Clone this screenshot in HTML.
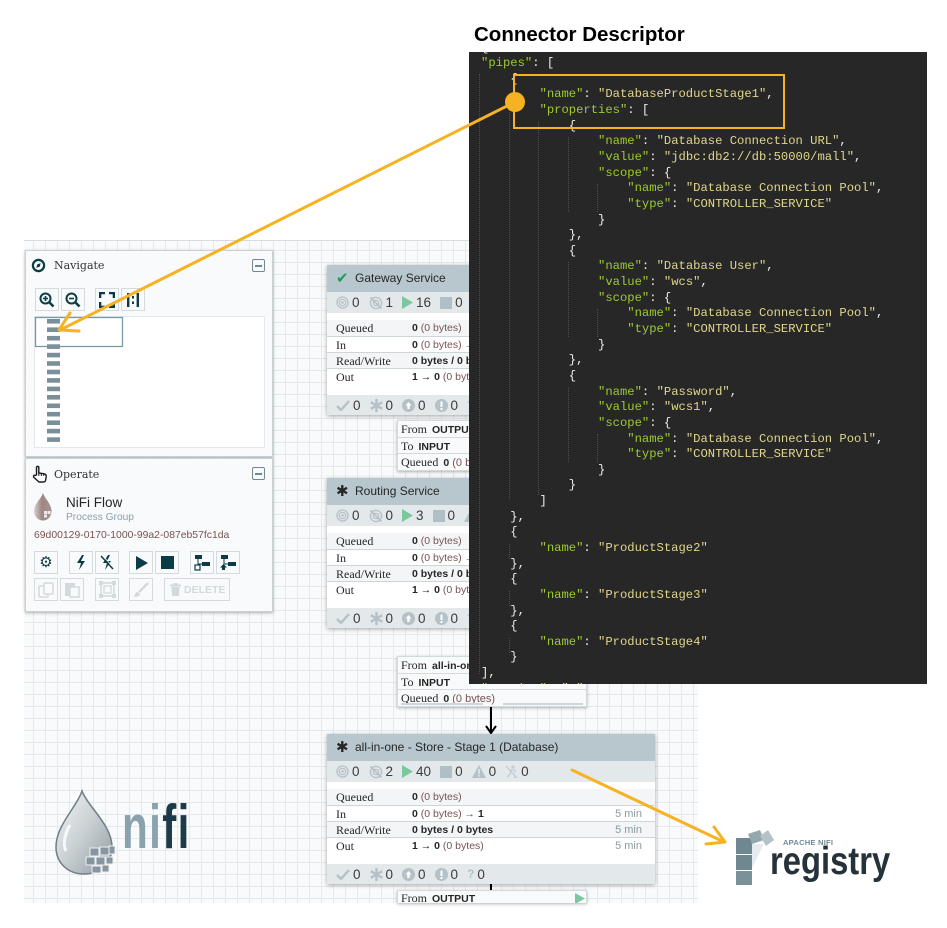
<!DOCTYPE html>
<html><head><meta charset="utf-8">
<style>
*{margin:0;padding:0;box-sizing:border-box}
body{width:947px;height:928px;position:relative;overflow:hidden;background:#fff;font-family:"Liberation Sans",sans-serif;color:#262626}
.a{position:absolute}
#canvas{left:24px;top:240px;width:674px;height:663px;background-color:#f9fafb;background-image:linear-gradient(#e4e9ec 1px,transparent 1px),linear-gradient(90deg,#e4e9ec 1px,transparent 1px);background-size:12px 12px;background-position:9px 9px;border-top:1px solid #d5dde0;z-index:0}
.panel{position:absolute;background:#f9fafb;border:1px solid #c9d2d6;box-shadow:0 1px 3px rgba(0,0,0,.3);z-index:2}
.slab{font-family:"DejaVu Serif","Liberation Serif",serif}
.ser{font-family:"Liberation Serif",serif}
.btn{position:absolute;width:24px;height:23px;border:1px solid #d4dbdf;background:#f9fafb;display:flex;align-items:center;justify-content:center;z-index:3}
.mn{position:absolute;width:13px;height:13px;border:1px solid #6f8a96;border-radius:2px;z-index:3}
.mn:after{content:"";position:absolute;left:2px;right:2px;top:5px;height:1.5px;background:#6f8a96}
.proc{position:absolute;width:328px;height:150px;background:#fff;box-shadow:0 1px 4px rgba(0,0,0,.35);z-index:2;overflow:hidden}
.ph{position:absolute;left:0;top:0;width:100%;height:27px;background:#b8c6cd;line-height:27px;padding-left:9px;font-size:12px;white-space:nowrap}
.ph .hi{display:inline-block;width:16px;font-size:15px;margin-right:3px;vertical-align:top}
.ps,.pf{position:absolute;left:0;width:100%;background:#e3e8eb;display:flex;align-items:center;padding-left:9px;white-space:nowrap}
.ps{top:27px;height:21px}
.pf{top:130px;height:20px}
.ps span.n,.pf span.n{font-size:13.5px;color:#3d3a3a;margin-left:3px;margin-right:9px}
.ps svg,.pf svg{flex:none}
.r{position:absolute;left:0;width:100%;height:16px;line-height:16px;font-size:10.5px;white-space:nowrap}
.r .l{position:absolute;left:9px;font-family:"Liberation Serif",serif;font-size:12px;color:#262626}
.r .v{position:absolute;left:85px;color:#775351}
.r .v b{color:#262626}
.r .t{position:absolute;right:13px;color:#8a9ba3;font-size:11px}
.g{background:#f3f5f6}
.sep{border-top:1px solid #cdd5d9}
.conn{position:absolute;width:190px;background:#f9fafb;box-shadow:0 1px 3px rgba(0,0,0,.3);border:1px solid #d3dadd;z-index:2;overflow:hidden}
.cr{height:16.5px;line-height:16.5px;padding-left:3px;font-size:11px;white-space:nowrap;border-bottom:1px solid #d3dadd;color:#262626}
.cr .sl{font-family:"Liberation Serif",serif;font-size:12px;margin-right:5px}
.cr b{font-size:10.5px}
#code{left:469px;top:52px;width:458px;height:632px;background:#272727;overflow:hidden;z-index:5}
#code pre{position:absolute;left:12px;top:-11.5px;font-family:"Liberation Mono",monospace;font-size:12.2px;line-height:15.64px;color:#eeeeee}
.k{color:#9dcb2e}.s{color:#e0d68a}
.gd{position:absolute;border-left:1px dotted #4e4e4e;width:0}
</style></head><body>

<div class="a" style="left:474px;top:23px;font-size:20.5px;font-weight:bold;color:#000;white-space:nowrap">Connector Descriptor</div>

<div id="canvas" class="a"></div>

<!-- Navigate panel -->
<div class="panel" style="left:25px;top:250px;width:248px;height:207px"></div>
<svg class="a" style="left:31px;top:258px;z-index:3" width="15" height="15"><circle cx="7.5" cy="7.5" r="5.6" fill="none" stroke="#0b3c45" stroke-width="2.2"/><path d="M5.3 9.7 L6.3 6.3 L9.7 5.3 L8.7 8.7 Z" fill="#0b3c45"/></svg>
<div class="a slab" style="left:54px;top:258px;font-size:11px;line-height:15px;z-index:3;color:#333">Navigate</div>
<div class="mn" style="left:252px;top:259px"></div>
<div class="btn" style="left:35px;top:288px"><svg width="16" height="16"><circle cx="6.5" cy="6.5" r="5" fill="none" stroke="#0b3c45" stroke-width="2"/><line x1="10" y1="10" x2="14.5" y2="14.5" stroke="#0b3c45" stroke-width="2.6"/><path d="M4 6.5H9M6.5 4V9" stroke="#0b3c45" stroke-width="1.6"/></svg></div>
<div class="btn" style="left:61px;top:288px"><svg width="16" height="16"><circle cx="6.5" cy="6.5" r="5" fill="none" stroke="#0b3c45" stroke-width="2"/><line x1="10" y1="10" x2="14.5" y2="14.5" stroke="#0b3c45" stroke-width="2.6"/><path d="M4 6.5H9" stroke="#0b3c45" stroke-width="1.6"/></svg></div>
<div class="btn" style="left:95px;top:288px"><svg width="16" height="16"><path d="M1 6V1H6M10 1H15V6M15 10V15H10M6 15H1V10" fill="none" stroke="#0b3c45" stroke-width="2.6"/></svg></div>
<div class="btn" style="left:121px;top:288px"><svg width="16" height="16"><rect x="2" y="1" width="2.4" height="14" fill="#0b3c45"/><rect x="11.6" y="1" width="2.4" height="14" fill="#0b3c45"/><rect x="7" y="4" width="2" height="2.5" fill="#0b3c45"/><rect x="7" y="9.5" width="2" height="2.5" fill="#0b3c45"/></svg></div>
<div class="a" style="left:34px;top:316px;width:231px;height:132px;background:#fff;border:1px solid #e3e8eb;z-index:3"></div>
<svg class="a" style="left:34px;top:316px;z-index:3" width="231" height="132">
<g fill="#7a8f99">
<rect x="13" y="3" width="13" height="4.6"/><rect x="13" y="11.4" width="13" height="4.6"/><rect x="13" y="19.9" width="13" height="4.6"/><rect x="13" y="28.3" width="13" height="4.6"/><rect x="13" y="36.8" width="13" height="4.6"/><rect x="13" y="45.2" width="13" height="4.6"/><rect x="13" y="53.7" width="13" height="4.6"/><rect x="13" y="62.1" width="13" height="4.6"/><rect x="13" y="70.6" width="13" height="4.6"/><rect x="13" y="79" width="13" height="4.6"/><rect x="13" y="87.5" width="13" height="4.6"/><rect x="13" y="95.9" width="13" height="4.6"/><rect x="13" y="104.4" width="13" height="4.6"/><rect x="13" y="112.8" width="13" height="4.6"/><rect x="13" y="121.3" width="13" height="4.6"/>
</g>
<rect x="1.5" y="1.5" width="87" height="29" fill="none" stroke="#7a97a3" stroke-width="1.3"/>
</svg>

<!-- Operate panel -->
<div class="panel" style="left:25px;top:458px;width:248px;height:154px"></div>
<svg class="a" style="left:31px;top:465px;z-index:3" width="17" height="18"><path d="M5.5 10 V2.5 C5.5 1 7.8 1 7.8 2.5 V8 L13 8.8 C14.8 9.2 15.5 10.2 15.2 12 L14.5 15.5 C14.2 16.6 13.5 17 12.5 17 H8 L3 12.5 C2 11.5 2.8 9.8 4.2 10.4 Z" fill="#fff" stroke="#1a1a1a" stroke-width="1.4" stroke-linejoin="round"/><path d="M7.8 8 V11 M10.3 8.4 V11 M12.7 8.7 V11" stroke="#1a1a1a" stroke-width="1"/></svg>
<div class="a slab" style="left:54px;top:467px;font-size:11px;line-height:15px;z-index:3;color:#333">Operate</div>
<div class="mn" style="left:252px;top:467px"></div>
<svg class="a" style="left:33px;top:492px;z-index:3" width="20" height="30"><defs><linearGradient id="dg2" x1="0" y1="0" x2="1" y2="0"><stop offset="0" stop-color="#d9cfcd"/><stop offset=".45" stop-color="#9e8784"/><stop offset="1" stop-color="#a8918e"/></linearGradient></defs><path d="M10 1 C8 7 1 12 1 19 C1 24.5 5 28.5 10 28.5 C15 28.5 18.5 24.5 18.5 19 C18.5 12 12 7 10 1Z" fill="url(#dg2)"/><g fill="#efeaea"><rect x="11" y="19" width="3" height="3"/><rect x="14.5" y="19" width="3" height="3"/><rect x="11" y="22.5" width="3" height="3"/></g></svg>
<div class="a" style="left:66px;top:495px;font-size:13.5px;line-height:16px;z-index:3;color:#262626">NiFi Flow</div>
<div class="a" style="left:66px;top:511px;font-size:10.2px;line-height:13px;z-index:3;color:#8aa0aa">Process Group</div>
<div class="a" style="left:34px;top:529px;font-size:10.4px;line-height:13px;z-index:3;color:#775351;white-space:nowrap">69d00129-0170-1000-99a2-087eb57fc1da</div>
<div class="btn" style="left:34px;top:551px"><span style="font-size:15px;color:#0b3c45;line-height:15px">⚙</span></div>
<div class="btn" style="left:69px;top:551px"><svg width="10" height="15"><polygon points="6,0 1,8 5,8 3,15 9,6 5,6 8,0" fill="#0b3c45"/></svg></div>
<div class="btn" style="left:95px;top:551px"><svg width="14" height="15"><polygon points="8,0 3,8 7,8 5,15 11,6 7,6 10,0" fill="#0b3c45"/><line x1="1" y1="1" x2="13" y2="14" stroke="#0b3c45" stroke-width="1.5"/><line x1="2" y1="2" x2="12" y2="13" stroke="#f9fafb" stroke-width=".8" transform="translate(1,-1)"/></svg></div>
<div class="btn" style="left:129px;top:551px"><svg width="13" height="14"><polygon points="1,0 13,7 1,14" fill="#0b3c45"/></svg></div>
<div class="btn" style="left:155px;top:551px"><svg width="13" height="13"><rect width="13" height="13" fill="#0b3c45"/></svg></div>
<div class="btn" style="left:190px;top:551px"><svg width="18" height="17"><rect x="2" y="1" width="7" height="4" fill="#0b3c45"/><rect x="9" y="8" width="8" height="4" fill="#0b3c45"/><path d="M5 5V10H9" stroke="#0b3c45" fill="none"/><rect x="2" y="11" width="5" height="5" fill="none" stroke="#0b3c45" stroke-width="1.2"/></svg></div>
<div class="btn" style="left:216px;top:551px"><svg width="18" height="17"><rect x="2" y="1" width="7" height="4" fill="#0b3c45"/><rect x="9" y="8" width="8" height="4" fill="#0b3c45"/><path d="M5 5V10H9" stroke="#0b3c45" fill="none"/><polygon points="4.5,10 8,13.5 6,13.5 6,16 3,16 3,13.5 1,13.5" fill="#0b3c45"/></svg></div>
<div class="btn" style="left:34px;top:578px"><svg width="16" height="16"><rect x="1" y="4" width="9" height="11" rx="1" fill="none" stroke="#d3dadd" stroke-width="1.5"/><rect x="6" y="1" width="9" height="11" rx="1" fill="#f9fafb" stroke="#d3dadd" stroke-width="1.5"/></svg></div>
<div class="btn" style="left:60px;top:578px"><svg width="16" height="16"><rect x="1" y="1" width="10" height="13" fill="#d3dadd"/><rect x="6" y="5" width="9" height="10" fill="#f9fafb" stroke="#d3dadd" stroke-width="1.5"/></svg></div>
<div class="btn" style="left:95px;top:578px"><svg width="17" height="17"><rect x="2" y="2" width="13" height="13" fill="none" stroke="#d3dadd" stroke-width="1.5"/><rect x="5" y="5" width="7" height="7" fill="none" stroke="#d3dadd" stroke-width="1.3"/><g fill="#d3dadd"><rect x="0" y="0" width="4" height="4"/><rect x="13" y="0" width="4" height="4"/><rect x="0" y="13" width="4" height="4"/><rect x="13" y="13" width="4" height="4"/></g></svg></div>
<div class="btn" style="left:129px;top:578px"><svg width="16" height="16"><path d="M15 1 L6 10" stroke="#d3dadd" stroke-width="2.5"/><path d="M5 10 C2 10 2 13 1 15 C4 15 7 14 7 12Z" fill="#d3dadd"/></svg></div>
<div class="btn" style="left:164px;top:578px;width:66px;justify-content:flex-start;padding-left:5px"><svg width="11" height="13"><rect x="0" y="1.5" width="11" height="2" fill="#d3dadd"/><rect x="3.5" y="0" width="4" height="2" fill="#d3dadd"/><path d="M1.5 4H9.5L9 13H2Z" fill="#d3dadd"/></svg><span style="font-size:10.5px;font-weight:bold;color:#d3dadd;margin-left:3px">DELETE</span></div>

<!-- Gateway Service -->
<div class="proc" style="left:327px;top:265px">
 <div class="ph"><span class="hi" style="color:#1f9d55">✔</span>Gateway Service</div>
 <div class="ps">
  <svg width="13" height="13"><circle cx="6.5" cy="6.5" r="5.5" fill="none" stroke="#b4c1c7" stroke-width="1.3"/><circle cx="6.5" cy="6.5" r="3.2" fill="none" stroke="#b4c1c7" stroke-width="1.2"/><circle cx="6.5" cy="6.5" r="1.3" fill="#b4c1c7"/></svg><span class="n">0</span>
  <svg width="14" height="14"><circle cx="7" cy="7" r="5.6" fill="none" stroke="#b4c1c7" stroke-width="1.3"/><circle cx="7" cy="7" r="2.6" fill="none" stroke="#b4c1c7" stroke-width="1.2"/><line x1="1.5" y1="1.5" x2="12.5" y2="12.5" stroke="#b4c1c7" stroke-width="1.6"/></svg><span class="n">1</span>
  <svg width="11" height="13"><polygon points="0,0 11,6.5 0,13" fill="#7dc7a0"/></svg><span class="n">16</span>
  <svg width="12" height="12"><rect width="12" height="12" fill="#b0bec5"/></svg><span class="n">0</span>
 </div>
 <div class="r g" style="top:55px"><span class="l">Queued</span><span class="v"><b>0</b> (0 bytes)</span></div>
 <div class="r sep" style="top:71px"><span class="l">In</span><span class="v"><b>0</b> (0 bytes) → 1</span></div>
 <div class="r g sep" style="top:87px"><span class="l">Read/Write</span><span class="v"><b>0 bytes / 0 bytes</b></span></div>
 <div class="r sep" style="top:103px"><span class="l">Out</span><span class="v"><b>1 → 0</b> (0 bytes)</span></div>
 <div class="pf">
  <svg width="14" height="11"><path d="M1 6 L5 10 L13 1" stroke="#b4c1c7" stroke-width="2.4" fill="none"/></svg><span class="n">0</span>
  <svg width="13" height="13"><path d="M6.5 0V13M0.8 3.2L12.2 9.8M0.8 9.8L12.2 3.2" stroke="#b4c1c7" stroke-width="2.4"/></svg><span class="n">0</span>
  <svg width="13" height="13"><circle cx="6.5" cy="6.5" r="6.5" fill="#b4c1c7"/><path d="M6.5 3L3.5 6.5H5.3V10H7.7V6.5H9.5Z" fill="#fff"/></svg><span class="n">0</span>
  <svg width="13" height="13"><circle cx="6.5" cy="6.5" r="6.5" fill="#b4c1c7"/><rect x="5.5" y="2.5" width="2" height="5.5" fill="#fff"/><rect x="5.5" y="9" width="2" height="2" fill="#fff"/></svg><span class="n">0</span>
  <span style="color:#b4c1c7;font-weight:bold;font-size:12px">?</span><span class="n">0</span>
 </div>
</div>

<!-- conn 1 -->
<div class="conn" style="left:397px;top:420px;height:51px">
 <div class="cr"><span class="sl">From</span><b>OUTPUT</b></div>
 <div class="cr"><span class="sl">To</span><b>INPUT</b></div>
 <div class="cr" style="border:none"><span class="sl">Queued</span><b>0</b> <span style="color:#775351">(0 bytes)</span></div>
</div>

<!-- Routing Service -->
<div class="proc" style="left:327px;top:478px">
 <div class="ph"><span class="hi">✱</span>Routing Service</div>
 <div class="ps">
  <svg width="13" height="13"><circle cx="6.5" cy="6.5" r="5.5" fill="none" stroke="#b4c1c7" stroke-width="1.3"/><circle cx="6.5" cy="6.5" r="3.2" fill="none" stroke="#b4c1c7" stroke-width="1.2"/><circle cx="6.5" cy="6.5" r="1.3" fill="#b4c1c7"/></svg><span class="n">0</span>
  <svg width="14" height="14"><circle cx="7" cy="7" r="5.6" fill="none" stroke="#b4c1c7" stroke-width="1.3"/><circle cx="7" cy="7" r="2.6" fill="none" stroke="#b4c1c7" stroke-width="1.2"/><line x1="1.5" y1="1.5" x2="12.5" y2="12.5" stroke="#b4c1c7" stroke-width="1.6"/></svg><span class="n">0</span>
  <svg width="11" height="13"><polygon points="0,0 11,6.5 0,13" fill="#7dc7a0"/></svg><span class="n">3</span>
  <svg width="12" height="12"><rect width="12" height="12" fill="#b0bec5"/></svg><span class="n">0</span>
  <svg width="14" height="13"><polygon points="7,0 14,13 0,13" fill="#b4c1c7"/></svg><span class="n">0</span>
 </div>
 <div class="r g" style="top:55px"><span class="l">Queued</span><span class="v"><b>0</b> (0 bytes)</span></div>
 <div class="r sep" style="top:71px"><span class="l">In</span><span class="v"><b>0</b> (0 bytes) → 1</span></div>
 <div class="r g sep" style="top:87px"><span class="l">Read/Write</span><span class="v"><b>0 bytes / 0 bytes</b></span></div>
 <div class="r sep" style="top:103px"><span class="l">Out</span><span class="v"><b>1 → 0</b> (0 bytes)</span></div>
 <div class="pf">
  <svg width="14" height="11"><path d="M1 6 L5 10 L13 1" stroke="#b4c1c7" stroke-width="2.4" fill="none"/></svg><span class="n">0</span>
  <svg width="13" height="13"><path d="M6.5 0V13M0.8 3.2L12.2 9.8M0.8 9.8L12.2 3.2" stroke="#b4c1c7" stroke-width="2.4"/></svg><span class="n">0</span>
  <svg width="13" height="13"><circle cx="6.5" cy="6.5" r="6.5" fill="#b4c1c7"/><path d="M6.5 3L3.5 6.5H5.3V10H7.7V6.5H9.5Z" fill="#fff"/></svg><span class="n">0</span>
  <svg width="13" height="13"><circle cx="6.5" cy="6.5" r="6.5" fill="#b4c1c7"/><rect x="5.5" y="2.5" width="2" height="5.5" fill="#fff"/><rect x="5.5" y="9" width="2" height="2" fill="#fff"/></svg><span class="n">0</span>
  <span style="color:#b4c1c7;font-weight:bold;font-size:12px">?</span><span class="n">0</span>
 </div>
</div>

<!-- conn 2 -->
<div class="conn" style="left:397px;top:656px;height:51px">
 <div class="cr"><span class="sl">From</span><b>all-in-one - Routing</b></div>
 <div class="cr"><span class="sl">To</span><b>INPUT</b></div>
 <div class="cr" style="border:none"><span class="sl">Queued</span><b>0</b> <span style="color:#775351">(0 bytes)</span></div>
 <div class="a" style="left:3px;top:46px;width:82px;height:2px;background:#cfd6da"></div>
 <div class="a" style="left:105px;top:46px;width:80px;height:2px;background:#cfd6da"></div>
</div>

<svg class="a" style="left:480px;top:700px;z-index:1" width="24" height="200"><line x1="11" y1="7" x2="11" y2="32" stroke="#000" stroke-width="2"/><path d="M6 26 L11 33 L16 26" stroke="#000" stroke-width="2" fill="none"/><line x1="11" y1="183" x2="11" y2="195" stroke="#000" stroke-width="2"/></svg>

<!-- Store -->
<div class="proc" style="left:327px;top:734px">
 <div class="ph"><span class="hi">✱</span>all-in-one - Store - Stage 1 (Database)</div>
 <div class="ps">
  <svg width="13" height="13"><circle cx="6.5" cy="6.5" r="5.5" fill="none" stroke="#b4c1c7" stroke-width="1.3"/><circle cx="6.5" cy="6.5" r="3.2" fill="none" stroke="#b4c1c7" stroke-width="1.2"/><circle cx="6.5" cy="6.5" r="1.3" fill="#b4c1c7"/></svg><span class="n">0</span>
  <svg width="14" height="14"><circle cx="7" cy="7" r="5.6" fill="none" stroke="#b4c1c7" stroke-width="1.3"/><circle cx="7" cy="7" r="2.6" fill="none" stroke="#b4c1c7" stroke-width="1.2"/><line x1="1.5" y1="1.5" x2="12.5" y2="12.5" stroke="#b4c1c7" stroke-width="1.6"/></svg><span class="n">2</span>
  <svg width="11" height="13"><polygon points="0,0 11,6.5 0,13" fill="#7dc7a0"/></svg><span class="n">40</span>
  <svg width="12" height="12"><rect width="12" height="12" fill="#b0bec5"/></svg><span class="n">0</span>
  <svg width="14" height="13"><polygon points="7,0 14,13 0,13" fill="#b4c1c7"/><rect x="6.2" y="4" width="1.6" height="5" fill="#e3e8eb"/><rect x="6.2" y="10" width="1.6" height="1.6" fill="#e3e8eb"/></svg><span class="n">0</span>
  <svg width="13" height="14"><circle cx="8" cy="2" r="1.6" fill="#c3ced3"/><path d="M7 4 L5 9 L2 12 M6 7 L9 9 L10 13 M5 5 L9 5 L11 7" stroke="#c3ced3" stroke-width="1.3" fill="none"/><line x1="1" y1="1" x2="12" y2="13" stroke="#c3ced3" stroke-width="1.2"/></svg><span class="n">0</span>
 </div>
 <div class="r g" style="top:55px"><span class="l">Queued</span><span class="v"><b>0</b> (0 bytes)</span></div>
 <div class="r sep" style="top:71px"><span class="l">In</span><span class="v"><b>0</b> (0 bytes) → <b>1</b></span><span class="t">5 min</span></div>
 <div class="r g sep" style="top:87px"><span class="l">Read/Write</span><span class="v"><b>0 bytes / 0 bytes</b></span><span class="t">5 min</span></div>
 <div class="r sep" style="top:103px"><span class="l">Out</span><span class="v"><b>1 → 0</b> (0 bytes)</span><span class="t">5 min</span></div>
 <div class="pf">
  <svg width="14" height="11"><path d="M1 6 L5 10 L13 1" stroke="#b4c1c7" stroke-width="2.4" fill="none"/></svg><span class="n">0</span>
  <svg width="13" height="13"><path d="M6.5 0V13M0.8 3.2L12.2 9.8M0.8 9.8L12.2 3.2" stroke="#b4c1c7" stroke-width="2.4"/></svg><span class="n">0</span>
  <svg width="13" height="13"><circle cx="6.5" cy="6.5" r="6.5" fill="#b4c1c7"/><path d="M6.5 3L3.5 6.5H5.3V10H7.7V6.5H9.5Z" fill="#fff"/></svg><span class="n">0</span>
  <svg width="13" height="13"><circle cx="6.5" cy="6.5" r="6.5" fill="#b4c1c7"/><rect x="5.5" y="2.5" width="2" height="5.5" fill="#fff"/><rect x="5.5" y="9" width="2" height="2" fill="#fff"/></svg><span class="n">0</span>
  <span style="color:#b4c1c7;font-weight:bold;font-size:12px">?</span><span class="n">0</span>
 </div>
</div>

<!-- conn 3 (partial) -->
<div class="conn" style="left:397px;top:890px;height:13px;border-bottom:none">
 <div class="cr" style="border:none;line-height:15px"><span class="sl">From</span><b>OUTPUT</b></div>
 <svg class="a" style="left:177px;top:2px" width="10" height="11"><polygon points="0,0 10,5.5 0,11" fill="#7dc7a0"/></svg>
</div>

<!-- nifi logo -->
<svg class="a" style="left:50px;top:785px;z-index:1" width="145" height="95">
<defs><linearGradient id="drop" x1="0" y1="0" x2="1" y2="1"><stop offset="0" stop-color="#f2f4f5"/><stop offset=".5" stop-color="#c9d0d3"/><stop offset="1" stop-color="#8e9aa0"/></linearGradient></defs>
<path d="M32 6 C27 22 6 40 6 62 C6 78 18 89 34 89 C50 89 62 78 62 62 C62 40 38 22 32 6Z" fill="url(#drop)" stroke="#6f7f87" stroke-width="1.5"/>
<path d="M20 40 C14 50 13 60 16 66" stroke="#fff" stroke-width="3" fill="none" opacity=".8"/>
<g fill="#8795a0" stroke="#eef1f2" stroke-width="1">
<rect x="40" y="63" width="9" height="8"/><rect x="50" y="62" width="9" height="8"/><rect x="59" y="61" width="6" height="8"/>
<rect x="36" y="72" width="9" height="8"/><rect x="46" y="72" width="9" height="8"/><rect x="56" y="72" width="7" height="7"/>
<rect x="42" y="81" width="9" height="7"/><rect x="52" y="80" width="7" height="7"/>
</g>
</svg>
<div class="a" style="left:122px;top:794px;font-size:62px;font-weight:bold;line-height:68px;z-index:1;transform:scaleX(0.68);transform-origin:0 0;white-space:nowrap;letter-spacing:2px"><span style="color:#8aa1ae">ni</span><span style="color:#1d3a48">fi</span></div>

<!-- registry logo -->
<svg class="a" style="left:734px;top:828px;z-index:1" width="40" height="60">
<rect x="2" y="10" width="16" height="16" fill="#6f8791"/><rect x="2" y="27" width="16" height="15" fill="#6f8791"/><rect x="2" y="43" width="16" height="14" fill="#7a919a"/>
<polygon points="14,6 26,2 30,12 18,16" fill="#94a7af"/><polygon points="26,8 34,2 40,12 32,18" fill="#b3c2c7"/>
<polygon points="18,16 30,16 18,40" fill="#e6ebed"/>
</svg>
<div class="a" style="left:783px;top:838px;font-size:7.6px;font-weight:bold;color:#6f8a96;z-index:1;white-space:nowrap;letter-spacing:.2px">APACHE NIFI</div>
<div class="a" style="left:770px;top:840px;font-size:39px;font-weight:bold;color:#25323a;line-height:44px;transform:scaleX(0.84);transform-origin:0 0;z-index:1;white-space:nowrap">registry</div>

<!-- code panel -->
<div id="code" class="a">
<div class="gd" style="left:10px;top:22px;height:600px"></div>
<div class="gd" style="left:40px;top:54px;height:393px"></div>
<div class="gd" style="left:40px;top:492px;height:15px"></div>
<div class="gd" style="left:40px;top:539px;height:15px"></div>
<div class="gd" style="left:40px;top:586px;height:15px"></div>
<div class="gd" style="left:69px;top:70px;height:373px"></div>
<div class="gd" style="left:99px;top:85px;height:75px"></div>
<div class="gd" style="left:99px;top:210px;height:75px"></div>
<div class="gd" style="left:99px;top:335px;height:75px"></div>
<div class="gd" style="left:128px;top:132px;height:28px"></div>
<div class="gd" style="left:128px;top:257px;height:28px"></div>
<div class="gd" style="left:128px;top:382px;height:28px"></div>
<pre>{
<span class="k">"pipes"</span>: [
    {
        <span class="k">"name"</span>: <span class="s">"DatabaseProductStage1"</span>,
        <span class="k">"properties"</span>: [
            {
                <span class="k">"name"</span>: <span class="s">"Database Connection URL"</span>,
                <span class="k">"value"</span>: <span class="s">"jdbc:db2://db:50000/mall"</span>,
                <span class="k">"scope"</span>: {
                    <span class="k">"name"</span>: <span class="s">"Database Connection Pool"</span>,
                    <span class="k">"type"</span>: <span class="s">"CONTROLLER_SERVICE"</span>
                }
            },
            {
                <span class="k">"name"</span>: <span class="s">"Database User"</span>,
                <span class="k">"value"</span>: <span class="s">"wcs"</span>,
                <span class="k">"scope"</span>: {
                    <span class="k">"name"</span>: <span class="s">"Database Connection Pool"</span>,
                    <span class="k">"type"</span>: <span class="s">"CONTROLLER_SERVICE"</span>
                }
            },
            {
                <span class="k">"name"</span>: <span class="s">"Password"</span>,
                <span class="k">"value"</span>: <span class="s">"wcs1"</span>,
                <span class="k">"scope"</span>: {
                    <span class="k">"name"</span>: <span class="s">"Database Connection Pool"</span>,
                    <span class="k">"type"</span>: <span class="s">"CONTROLLER_SERVICE"</span>
                }
            }
        ]
    },
    {
        <span class="k">"name"</span>: <span class="s">"ProductStage2"</span>
    },
    {
        <span class="k">"name"</span>: <span class="s">"ProductStage3"</span>
    },
    {
        <span class="k">"name"</span>: <span class="s">"ProductStage4"</span>
    }
],
<span class="k">"version"</span>: <span class="s">"1"</span>
</pre>
</div>

<!-- highlight + arrows -->
<svg class="a" style="left:0;top:0;z-index:10" width="947" height="928">
<rect x="514" y="75" width="270" height="53" fill="none" stroke="#f7b223" stroke-width="2"/>
<line x1="515" y1="102" x2="60" y2="330" stroke="#f7b223" stroke-width="3" stroke-linecap="round"/>
<path d="M70 313 L59 330 L79 331" fill="none" stroke="#f7b223" stroke-width="3" stroke-linecap="round" stroke-linejoin="round"/>
<circle cx="515" cy="102" r="10" fill="#f7b223"/>
<line x1="572" y1="770" x2="724" y2="842" stroke="#f7b223" stroke-width="3" stroke-linecap="round"/>
<path d="M714 827 L725 842 L706 844" fill="none" stroke="#f7b223" stroke-width="3" stroke-linecap="round" stroke-linejoin="round"/>
</svg>
</body></html>
